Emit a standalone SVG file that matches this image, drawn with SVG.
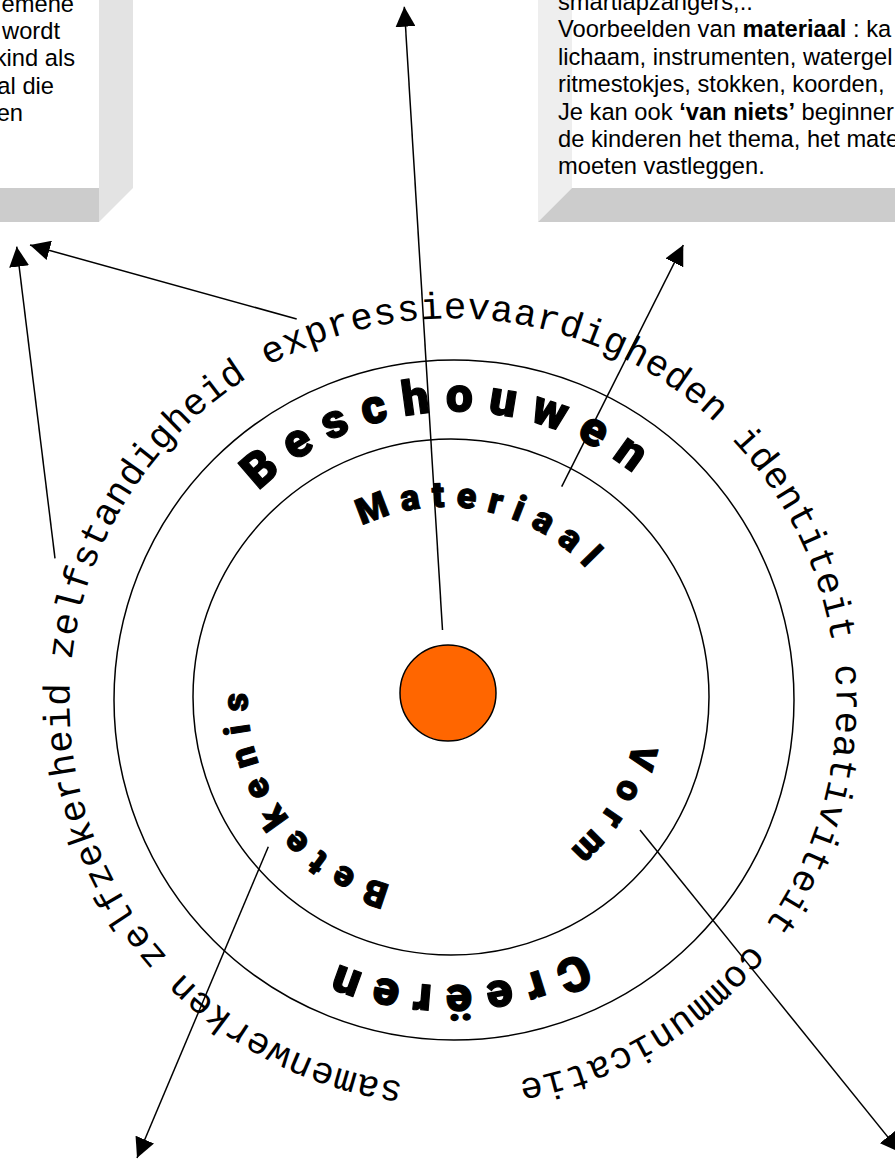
<svg xmlns="http://www.w3.org/2000/svg" width="895" height="1160" viewBox="0 0 895 1160">
<style>
.box-text{font-family:"Liberation Sans",Arial,sans-serif;font-size:23.7px;fill:#000}
.b{font-weight:bold}
.ring{fill:none;stroke:#000;stroke-width:1.5}
.outer-label{font-family:"Courier New","Liberation Mono",monospace;font-size:37.5px;letter-spacing:0.46px;fill:#000}
.big{font-family:"Arial Black",Roboto,Inter,"DejaVu Sans",sans-serif;font-weight:900;font-size:48px;fill:#000;stroke:#000;stroke-width:1.2px;stroke-linejoin:round}
.mid{font-family:"Arial Black",Roboto,Inter,"DejaVu Sans",sans-serif;font-weight:900;font-size:36px;fill:#000;stroke:#000;stroke-width:1px;stroke-linejoin:round}
.conn{stroke:#000;stroke-width:1.5;fill:none;marker-end:url(#arrow)}
</style>
<defs>
<marker id="arrow" markerUnits="userSpaceOnUse" markerWidth="20" markerHeight="20" refX="20" refY="10" orient="auto"><path d="M0,0 L20,10 L0,20 z" fill="#000"/></marker>
<path id="p-outer" d="M167.5,957.3 A383,383 0 1 1 738.5,446.7 A383,383 0 1 1 167.5,957.3"/>
<path id="p-besch" d="M258.7,491 A284,284 0 1 1 645.3,907 A284,284 0 1 1 258.7,491"/>
<path id="p-creer" d="M580.9,952 A284,284 0 1 1 323.1,446 A284,284 0 1 1 580.9,952"/>
<path id="p-mat" d="M361.9,525.8 A193,193 0 1 1 528.1,874.2 A193,193 0 1 1 361.9,525.8"/>
<path id="p-vorm" d="M633.1,743.1 A193,193 0 1 1 256.9,656.9 A193,193 0 1 1 633.1,743.1"/>
<path id="p-betek" d="M390.2,885 A193,193 0 1 1 499.8,515 A193,193 0 1 1 390.2,885"/>
</defs>
<rect width="895" height="1160" fill="#fff"/>
<g id="box-left">
<rect x="0" y="0" width="99" height="188" fill="#fff"/>
<polygon points="99,0 133,0 133,188 99,222" fill="#e3e3e3"/>
<polygon points="0,188 99,188 99,222 0,222" fill="#cccccc"/>
<text class="box-text" text-anchor="end"><tspan x="74" y="12">emene</tspan><tspan x="60" y="39">wordt</tspan><tspan x="75" y="66.3">kind als</tspan><tspan x="54" y="93.6">al die</tspan><tspan x="23" y="121">en</tspan></text>
</g>
<g id="box-right">
<polygon points="538,0 572,0 572,188 538,222" fill="#eeeeee"/>
<polygon points="538,222 572,188 895,188 895,222" fill="#cccccc"/>
<text class="box-text"><tspan x="558" y="10">smartlapzangers,..</tspan><tspan x="558" y="37.4">Voorbeelden van <tspan class="b">materiaal</tspan> : ka</tspan><tspan x="558" y="64.8">lichaam, instrumenten, watergel</tspan><tspan x="558" y="92.2">ritmestokjes, stokken, koorden, </tspan><tspan x="558" y="119.6">Je kan ook <tspan class="b">‘van niets’</tspan> beginner</tspan><tspan x="558" y="147">de kinderen het thema, het mate</tspan><tspan x="558" y="174.4">moeten vastleggen.</tspan></text>
</g>
<g id="outer-circle"><circle class="ring" cx="454" cy="700" r="340"/></g>
<g id="inner-circle"><circle class="ring" cx="451" cy="697" r="258"/></g>
<g id="core"><circle cx="448" cy="693" r="48" fill="#ff6600" stroke="#000" stroke-width="1.5"/></g>
<g id="outer-ring-label"><text class="outer-label"><textPath href="#p-outer">zelfzekerheid zelfstandigheid expressievaardigheden identiteit creativiteit communicatie&#160;&#160;&#160;&#160; samenwerken</textPath></text></g>
<g id="beschouwen"><text class="big"><textPath href="#p-besch" textLength="409" lengthAdjust="spacing">Beschouwen</textPath></text></g>
<g id="creeren"><text class="big"><textPath href="#p-creer" textLength="251" lengthAdjust="spacing">Creëren</textPath></text></g>
<g id="materiaal"><text class="mid"><textPath href="#p-mat" textLength="244" lengthAdjust="spacing">Materiaal</textPath></text></g>
<g id="vorm"><text class="mid"><textPath href="#p-vorm" textLength="126" lengthAdjust="spacing">Vorm</textPath></text></g>
<g id="betekenis"><text class="mid"><textPath href="#p-betek" textLength="258" lengthAdjust="spacing">Betekenis</textPath></text></g>
<g id="connectors">
<line class="conn" x1="442.5" y1="630" x2="404.3" y2="6.7"/>
<line class="conn" x1="561.7" y1="486.7" x2="683.3" y2="245"/>
<line class="conn" x1="296.7" y1="319" x2="30" y2="245"/>
<line class="conn" x1="55" y1="558.3" x2="16.7" y2="246.7"/>
<line class="conn" x1="268.3" y1="846.7" x2="137" y2="1158"/>
<line class="conn" x1="640" y1="830" x2="900.3" y2="1152.4"/>
</g>
</svg>
